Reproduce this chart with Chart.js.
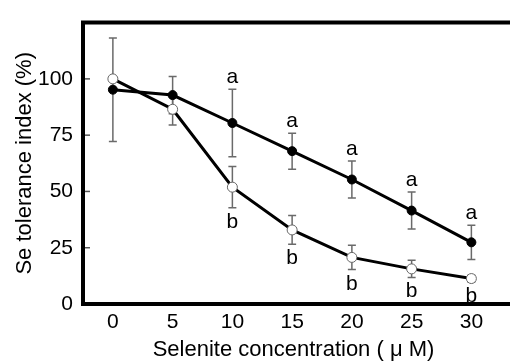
<!DOCTYPE html>
<html>
<head>
<meta charset="utf-8">
<script src="https://cdn.jsdelivr.net/npm/chart.js@4.4.1/dist/chart.umd.min.js"></script>
<style>
  html, body { margin: 0; padding: 0; background: #fff; }
  canvas { display: block; }
</style>
</head>
<body>
<canvas id="chart" width="510" height="361"></canvas>
<script>
// selenite concentrations (uM)
const concentrations = [0, 5, 10, 15, 20, 25, 30];

// filled circles
const filledMeans = [95.2, 92.8, 80.4, 67.9, 55.3, 41.5, 27.4];
const filledErrors = [23, 8.3, 15, 8, 8.2, 8.2, 7.6];
const filledLetters = ['', '', 'a', 'a', 'a', 'a', 'a'];

// open circles
const openMeans = [100, 86.5, 51.9, 32.9, 20.7, 15.6, 11.3];
const openErrors = [0, 7, 9.2, 6.4, 5.4, 3.8, 1.5];
const openLetters = ['', '', 'b', 'b', 'b', 'b', 'b'];

const xTickValues = [0, 5, 10, 15, 20, 25, 30];
const yTickValues = [0, 25, 50, 75, 100];

const FONT = '"Liberation Sans", Arial, Helvetica, sans-serif';

const toPoints = (ys) => concentrations.map((x, i) => ({ x: x, y: ys[i] }));

// error bars, letters, frame and inner y ticks
const extras = {
  id: 'extras',
  beforeDatasetsDraw(chart) {
    const ctx = chart.ctx;
    const xs = chart.scales.x, ys = chart.scales.y;
    ctx.save();
    ctx.strokeStyle = '#6a6a6a';
    ctx.lineWidth = 1.5;
    [[filledMeans, filledErrors], [openMeans, openErrors]].forEach(([means, errs]) => {
      means.forEach((m, i) => {
        if (!errs[i]) return;
        const px = xs.getPixelForValue(concentrations[i]);
        const top = ys.getPixelForValue(m + errs[i]);
        const bot = ys.getPixelForValue(m - errs[i]);
        ctx.beginPath();
        ctx.moveTo(px, top); ctx.lineTo(px, bot);
        ctx.moveTo(px - 4, top); ctx.lineTo(px + 4, top);
        ctx.moveTo(px - 4, bot); ctx.lineTo(px + 4, bot);
        ctx.stroke();
      });
    });
    ctx.restore();
  },
  afterDraw(chart) {
    const ctx = chart.ctx;
    const xs = chart.scales.x, ys = chart.scales.y;
    const area = chart.chartArea;
    ctx.save();

    // letters
    ctx.fillStyle = '#000';
    ctx.font = '21px ' + FONT;
    ctx.textAlign = 'center';
    ctx.textBaseline = 'alphabetic';
    filledLetters.forEach((t, i) => {
      if (!t) return;
      const px = xs.getPixelForValue(concentrations[i]);
      ctx.fillText(t, px, ys.getPixelForValue(filledMeans[i] + filledErrors[i]) - 6);
    });
    openLetters.forEach((t, i) => {
      if (!t) return;
      const px = xs.getPixelForValue(concentrations[i]);
      ctx.fillText(t, px, ys.getPixelForValue(openMeans[i] - openErrors[i]) + 20);
    });

    // inner y ticks
    ctx.strokeStyle = '#555';
    ctx.lineWidth = 1.5;
    yTickValues.forEach(v => {
      if (v === 0) return;
      const py = ys.getPixelForValue(v);
      ctx.beginPath();
      ctx.moveTo(area.left, py);
      ctx.lineTo(area.left + 7, py);
      ctx.stroke();
    });

    // frame: top, left, bottom
    ctx.strokeStyle = '#000';
    ctx.lineWidth = 4;
    ctx.lineJoin = 'miter';
    ctx.beginPath();
    ctx.moveTo(chart.width, area.top);
    ctx.lineTo(area.left, area.top);
    ctx.lineTo(area.left, area.bottom);
    ctx.lineTo(chart.width, area.bottom);
    ctx.stroke();
    ctx.restore();
  }
};

new Chart(document.getElementById('chart'), {
  type: 'line',
  data: {
    datasets: [
      {
        label: 'open',
        data: toPoints(openMeans),
        borderColor: '#000',
        borderWidth: 3,
        pointRadius: 5,
        pointBackgroundColor: '#fff',
        pointBorderColor: '#666',
        pointBorderWidth: 1,
        tension: 0
      },
      {
        label: 'filled',
        data: toPoints(filledMeans),
        borderColor: '#000',
        borderWidth: 3,
        pointRadius: 4.5,
        pointBackgroundColor: '#000',
        pointBorderColor: '#000',
        pointBorderWidth: 1,
        tension: 0
      }
    ]
  },
  options: {
    responsive: false,
    animation: false,
    layout: { padding: { top: 13, right: 0, left: 0, bottom: 0 } },
    plugins: {
      legend: { display: false },
      tooltip: { enabled: false }
    },
    scales: {
      x: {
        type: 'linear',
        min: -2.5,
        max: 32.73,
        afterFit(scale) { scale.height = 57; },
        afterBuildTicks(scale) { scale.ticks = xTickValues.map(v => ({ value: v })); },
        grid: { display: false, drawTicks: false },
        border: { display: false },
        ticks: { color: '#000', font: { family: FONT, size: 21 }, padding: 6, maxRotation: 0, autoSkip: false },
        title: {
          display: true,
          text: 'Selenite concentration ( \u03bc M)',
          color: '#000',
          font: { family: FONT, size: 22, lineHeight: 1 },
          padding: { top: 0, bottom: 0 }
        }
      },
      y: {
        min: 0,
        max: 125,
        afterFit(scale) { scale.width = 83; },
        afterBuildTicks(scale) { scale.ticks = yTickValues.map(v => ({ value: v })); },
        grid: { display: false, drawTicks: false },
        border: { display: false },
        ticks: { color: '#000', font: { family: FONT, size: 21 }, padding: 10 },
        title: {
          display: true,
          text: 'Se tolerance index (%)',
          color: '#000',
          font: { family: FONT, size: 22, lineHeight: 1.2 },
          padding: { top: 12, bottom: 0 }
        }
      }
    }
  },
  plugins: [extras]
});
</script>
</body>
</html>
